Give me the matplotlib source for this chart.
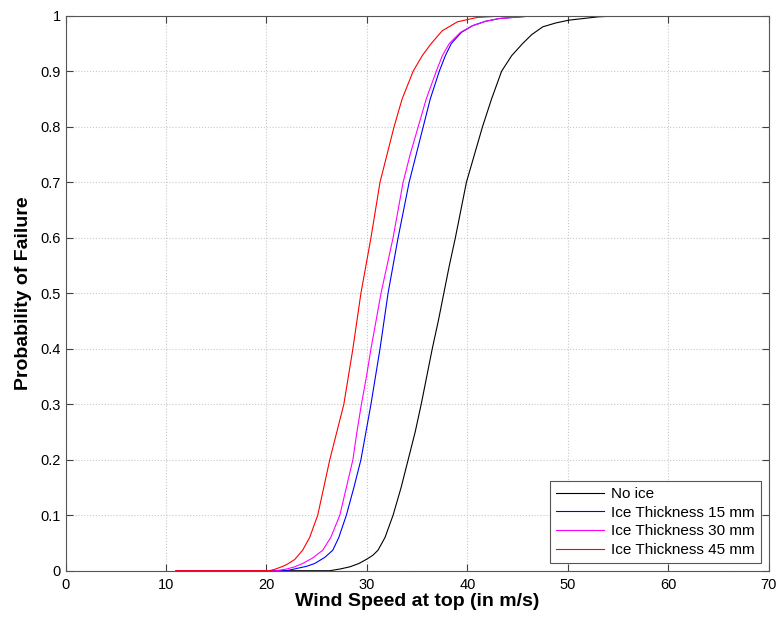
import matplotlib.pyplot as plt

plt.rcParams['font.family'] = ['Liberation Sans', 'DejaVu Sans']

# ----------------------------------------------------------
# Data (wind speed in m/s, probability)
# ----------------------------------------------------------

wind_noice = [11, 26.3, 27.3, 28.3, 29.2, 30.0, 30.6, 31.1, 31.8, 32.6, 33.4,
              34.1, 34.8, 35.4, 35.95, 36.5, 37.1, 37.65, 38.2, 38.8, 39.35,
              39.9, 40.7, 41.5, 42.4, 43.4, 44.4, 45.5, 46.4, 47.5, 48.8,
              50.1, 53.0, 55.3]
pf_noice = [0.0, 0.0, 0.003, 0.007, 0.013, 0.021, 0.028, 0.037, 0.06, 0.1, 0.15,
            0.2, 0.25, 0.3, 0.35, 0.4, 0.45, 0.5, 0.55, 0.6, 0.65,
            0.7, 0.75, 0.8, 0.85, 0.9, 0.928, 0.95, 0.966, 0.98, 0.987,
            0.992, 0.998, 1.0]

wind_15 = [11, 22.0, 23.0, 24.0, 24.8, 25.8, 26.6, 27.2, 27.95, 28.7, 29.4,
           29.9, 30.4, 30.85, 31.3, 31.7, 32.1, 32.6, 33.1, 33.65, 34.2,
           34.9, 35.6, 36.3, 37.2, 37.8, 38.4, 39.4, 40.5, 41.8, 43.2,
           46.0, 48.5]
pf_15 = [0.0, 0.0, 0.004, 0.008, 0.013, 0.024, 0.037, 0.06, 0.1, 0.15, 0.2,
         0.25, 0.3, 0.35, 0.4, 0.45, 0.5, 0.55, 0.6, 0.65, 0.7,
         0.75, 0.8, 0.85, 0.9, 0.928, 0.95, 0.97, 0.982, 0.99, 0.995,
         0.999, 1.0]

wind_30 = [11, 21.0, 22.0, 22.8, 23.6, 24.6, 25.6, 26.4, 27.3, 27.95, 28.6,
           29.0, 29.45, 29.95, 30.4, 30.9, 31.4, 32.0, 32.6, 33.1, 33.6,
           34.3, 35.1, 35.9, 36.9, 37.5, 38.2, 39.3, 40.5, 41.8, 43.2,
           46.0, 48.5]
pf_30 = [0.0, 0.0, 0.003, 0.007, 0.013, 0.023, 0.037, 0.06, 0.1, 0.15, 0.2,
         0.25, 0.3, 0.35, 0.4, 0.45, 0.5, 0.55, 0.6, 0.65, 0.7,
         0.75, 0.8, 0.85, 0.9, 0.928, 0.95, 0.97, 0.982, 0.99, 0.995,
         0.999, 1.0]

wind_45 = [11, 20.3, 20.9, 21.5, 22.0, 22.8, 23.6, 24.3, 25.1, 25.7, 26.3,
           27.0, 27.7, 28.15, 28.6, 29.0, 29.4, 29.9, 30.4, 30.85, 31.3,
           32.0, 32.7, 33.5, 34.6, 35.5, 36.4, 37.5, 39.0, 41.0, 44.0]
pf_45 = [0.0, 0.0, 0.003, 0.007, 0.011, 0.02, 0.037, 0.06, 0.1, 0.15, 0.2,
         0.25, 0.3, 0.35, 0.4, 0.45, 0.5, 0.55, 0.6, 0.65, 0.7,
         0.75, 0.8, 0.85, 0.9, 0.928, 0.95, 0.973, 0.989, 0.997, 1.0]

labels = ["No ice", "Ice Thickness 15 mm", "Ice Thickness 30 mm",
          "Ice Thickness 45 mm"]
colors = ["black", "blue", "magenta", "red"]

x_ticks = [0, 10, 20, 30, 40, 50, 60, 70]
y_ticks = [0, 0.1, 0.2, 0.3, 0.4, 0.5, 0.6, 0.7, 0.8, 0.9, 1]
y_tick_labels = ["0", "0.1", "0.2", "0.3", "0.4", "0.5", "0.6", "0.7",
                 "0.8", "0.9", "1"]

# ----------------------------------------------------------
# Plotting
# ----------------------------------------------------------

fig = plt.figure(figsize=(7.79, 6.19), dpi=100)
ax = fig.add_axes([0.0841, 0.078, 0.9029, 0.8966])

series = [(wind_noice, pf_noice), (wind_15, pf_15),
          (wind_30, pf_30), (wind_45, pf_45)]
for (x, y), lab, col in zip(series, labels, colors):
    ax.plot(x, y, color=col, lw=0.8, label=lab)

ax.set_xlim(0, 70)
ax.set_ylim(0, 1)
ax.set_xticks(x_ticks)
ax.set_yticks(y_ticks)
ax.set_yticklabels(y_tick_labels)

ax.grid(True, ls=":", color="#c8c8c8", lw=0.8)
ax.tick_params(direction="in", top=True, right=True, length=5,
               labelsize=10.5, color="#404040")
ax.tick_params(axis="x", pad=5)
for s in ax.spines.values():
    s.set_color("#555555")

ax.set_xlabel("Wind Speed at top (in m/s)", fontsize=14, fontweight="bold",
              labelpad=1)
ax.set_ylabel("Probability of Failure", fontsize=14, fontweight="bold",
              labelpad=6)

leg = ax.legend(loc="lower right", fontsize=11, fancybox=False,
                framealpha=1, edgecolor="#555555", handlelength=3.1,
                labelspacing=0.3, borderaxespad=0.5, handletextpad=0.5)
leg.get_frame().set_linewidth(0.8)

fig.savefig("out.png", dpi=100)
